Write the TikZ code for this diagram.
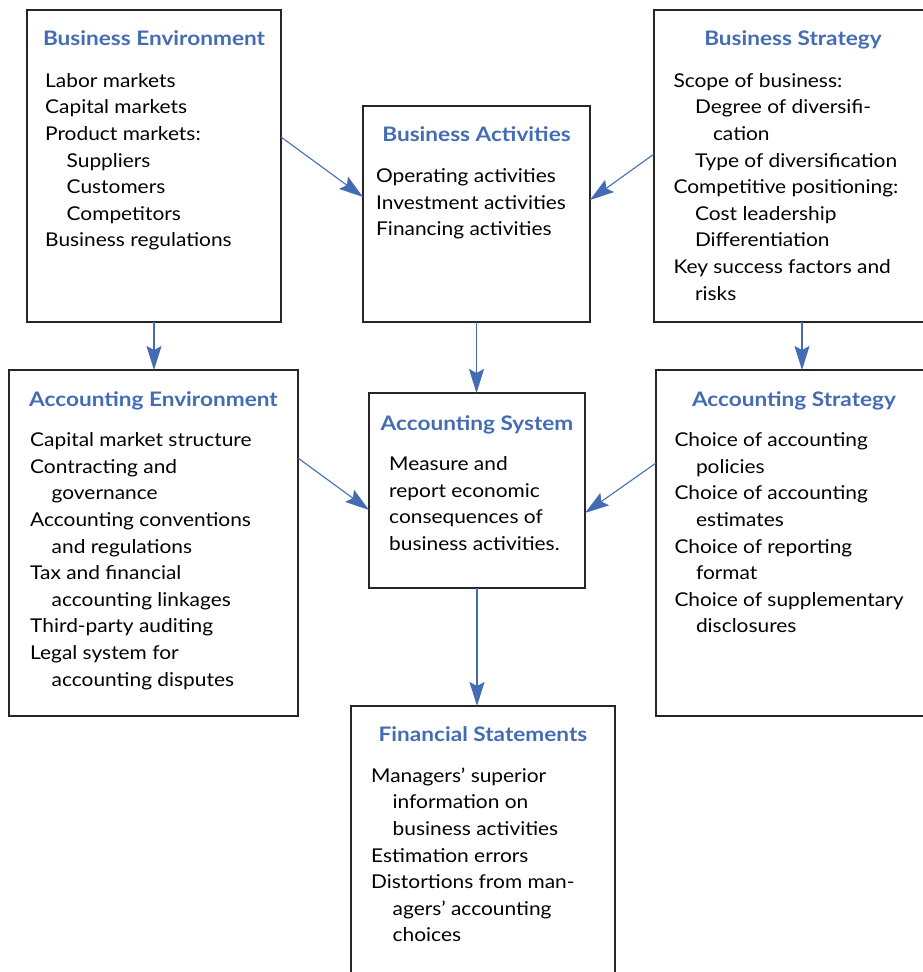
\documentclass[tikz,border=0pt]{standalone}
\usepackage{fontspec}
\setmainfont{Lato}[FakeStretch=1.10]
\newfontfamily\headfont{Lato}[FakeStretch=1.13]
\usetikzlibrary{arrows.meta}
\definecolor{headblue}{RGB}{68,108,179}
\newcommand\ind{\hspace*{21.5pt}}
\newcommand\indd{\hspace*{39.5pt}}
\tikzset{
  panel/.style={draw=black!85, line width=1.1pt, inner sep=0pt, outer sep=0pt, anchor=north west},
  head/.style={font=\headfont\fontsize{20}{22}\selectfont\bfseries, text=headblue, inner sep=0pt, anchor=base},
  body/.style={font=\fontsize{19}{26.6}\selectfont, align=left, anchor=base west, inner sep=0pt},
  flow/.style={draw=headblue, line width=1.1pt, -{Stealth[length=24pt, width=15pt, inset=4pt]}}
}
\begin{document}
\begin{tikzpicture}[x=1pt, y=-1pt]
\useasboundingbox (0,0) rectangle (923,972);
\clip (0,0) rectangle (923,972);

% panels
\node[panel, minimum width=254pt, minimum height=312pt] (benv) at (27,10) {};
\node[panel, minimum width=227pt, minimum height=216pt] (bact) at (363,106) {};
\node[panel, minimum width=278pt, minimum height=312pt] (bstr) at (654,10) {};
\node[panel, minimum width=289pt, minimum height=346pt] (aenv) at (9,370) {};
\node[panel, minimum width=216pt, minimum height=195pt] (asys) at (369,393) {};
\node[panel, minimum width=276pt, minimum height=346pt] (astr) at (656,370) {};
\node[panel, minimum width=264pt, minimum height=280pt] (fin) at (351,706) {};

% headings
\node[head] (benvh) at (154,45) {Business Environment};
\node[head] (bacth) at (476.5,141.7) {Business Activities};
\node[head] (bstrh) at (793,45.7) {Business Strategy};
\node[head] (aenvh) at (153.5,406) {Accounting Environment};
\node[head] (asysh) at (477,430) {Accounting System};
\node[head] (astrh) at (794,406.7) {Accounting Strategy};
\node[head] (finh) at (483,741.7) {Financial Statements};

% item lists (each placed by the baseline of its last line)
\node[body] (benvb) at (45,246.9) {Labor markets\\Capital markets\\Product markets:\\
  \ind Suppliers\\\ind Customers\\\ind Competitors\\Business regulations};
\node[body] (bactb) at (376,235.9) {Operating activities\\Investment activities\\Financing activities};
\node[body] (bstrb) at (673.3,300.1) {Scope of business:\\\ind Degree of diversifi-\\\indd cation\\
  \ind Type of diversification\\Competitive positioning:\\\ind Cost leadership\\
  \ind Differentiation\\Key success factors and\\\ind risks};
\node[body] (aenvb) at (30,686.1) {Capital market structure\\Contracting and\\\ind governance\\
  Accounting conventions\\\ind and regulations\\Tax and financial\\\ind accounting linkages\\
  Third-party auditing\\Legal system for\\\ind accounting disputes};
\node[body] (asysb) at (389,550.5) {Measure and\\report economic\\consequences of\\business activities.};
\node[body] (astrb) at (674.3,632.9) {Choice of accounting\\\ind policies\\Choice of accounting\\
  \ind estimates\\Choice of reporting\\\ind format\\Choice of supplementary\\\ind disclosures};
\node[body] (finb) at (371,941.9) {Managers’ superior\\\ind information on\\\ind business activities\\
  Estimation errors\\Distortions from man-\\\ind agers’ accounting\\\ind choices};

% connectors
\draw[flow] (benv.east |- 0,137) -- (bact.west |- 0,197);
\draw[flow] (bstr.west |- 0,154) -- (bact.east |- 0,200);
\draw[flow] (benv.south) -- (benv.south |- aenv.north);
\draw[flow] (bact.south) -- (bact.south |- asys.north);
\draw[flow] (802,322 |- bstr.south) -- (802,0 |- astr.north);
\draw[flow] (aenv.east |- 0,458) -- (asys.west |- 0,510);
\draw[flow] (astr.west |- 0,463) -- (asys.east |- 0,513);
\draw[flow] (asys.south) -- (asys.south |- fin.north);
\end{tikzpicture}
\end{document}
